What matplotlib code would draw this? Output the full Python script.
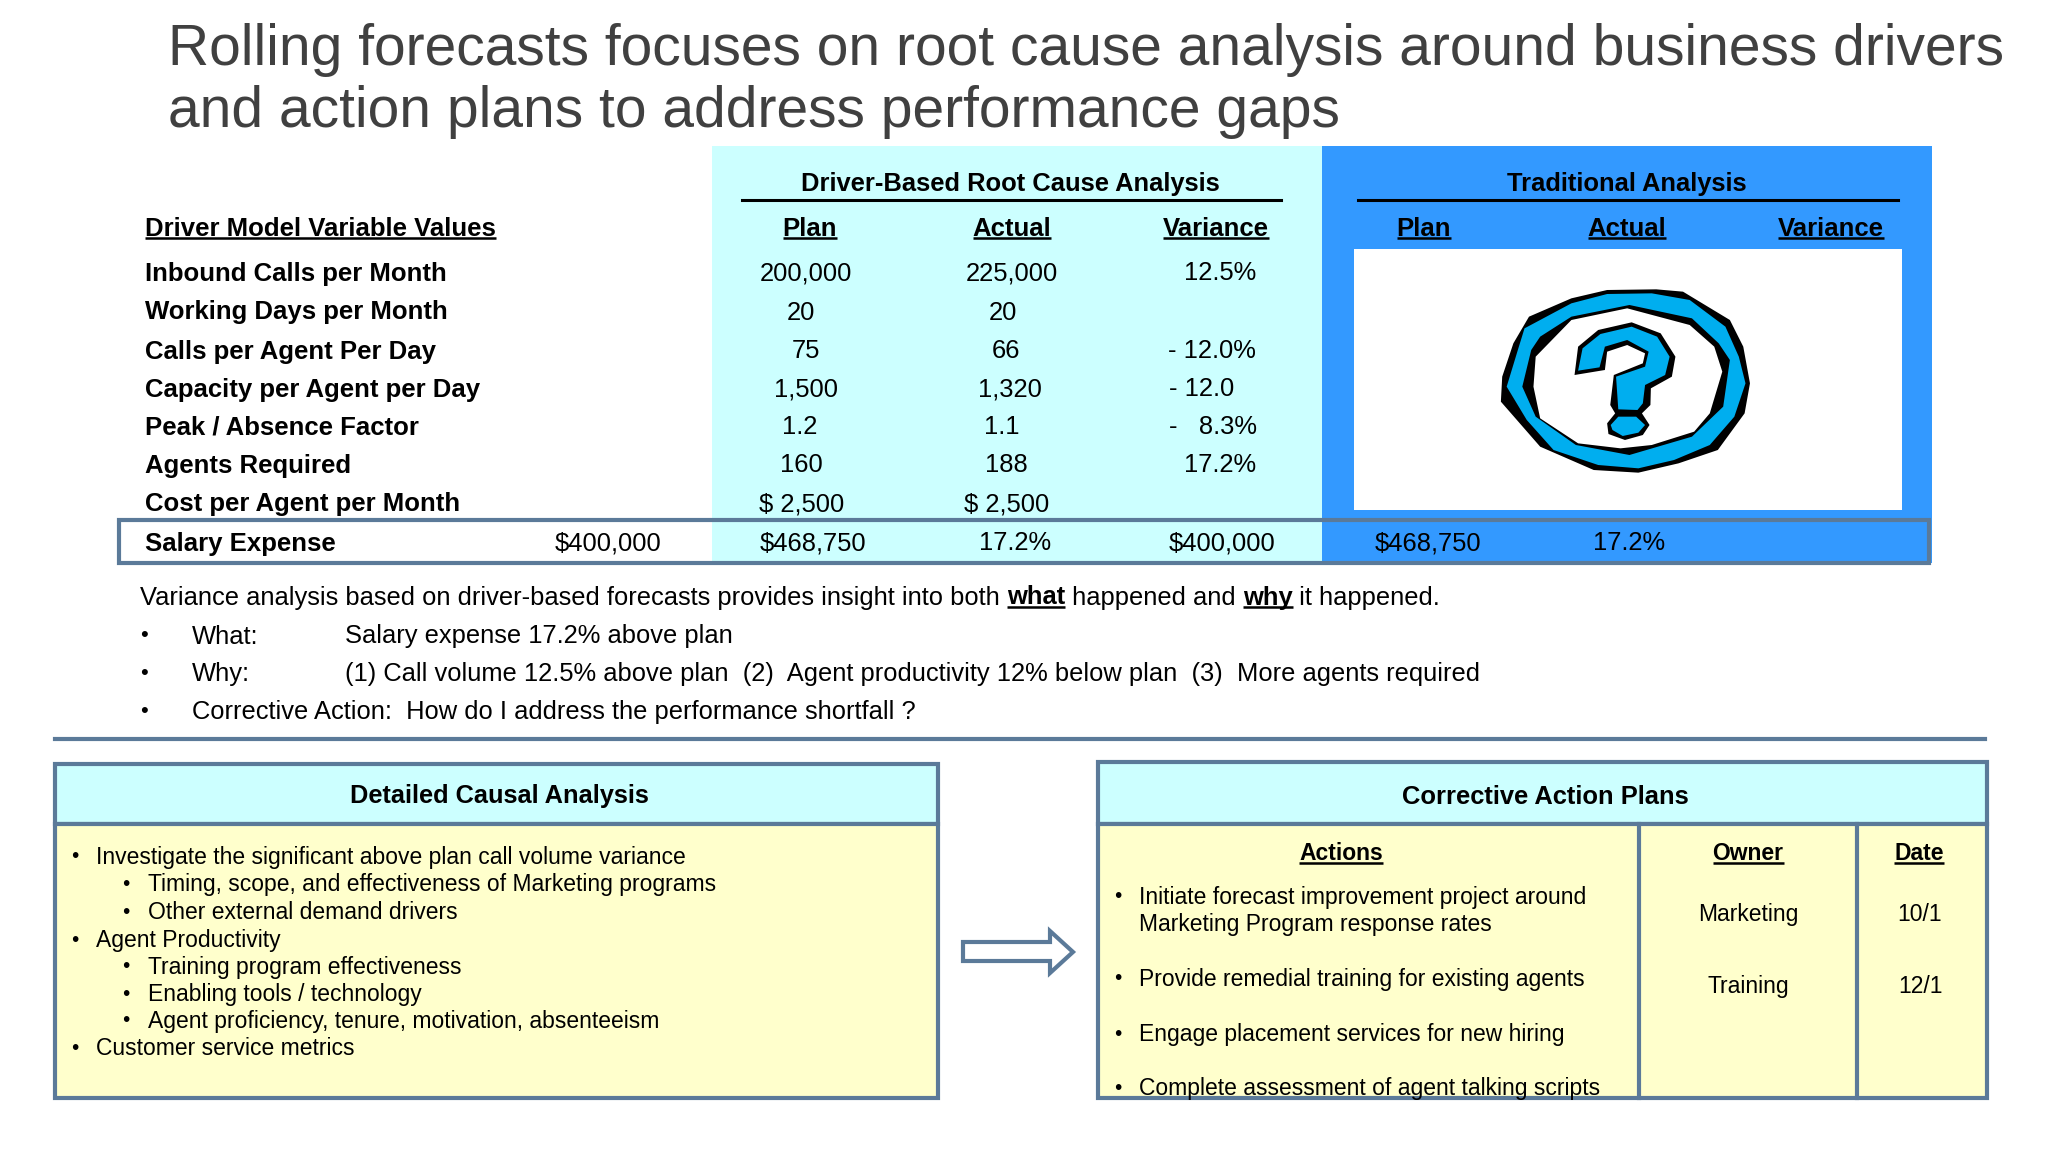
import matplotlib
matplotlib.use("Agg")
import matplotlib.pyplot as plt
from matplotlib.patches import Rectangle, Polygon

plt.rcParams['font.family'] = ['Liberation Sans', 'DejaVu Sans']

title_lines = ["Rolling forecasts focuses on root cause analysis around business drivers",
               "and action plans to address performance gaps"]
row_labels = ["Inbound Calls per Month", "Working Days per Month", "Calls per Agent Per Day",
              "Capacity per Agent per Day", "Peak / Absence Factor", "Agents Required",
              "Cost per Agent per Month"]
plan_values = ["200,000", "20", "75", "1,500", "1.2", "160", "$ 2,500"]
actual_values = ["225,000", "20", "66", "1,320", "1.1", "188", "$ 2,500"]
variance_values = ["12.5%", "", "- 12.0%", "- 12.0", "-   8.3%", "17.2%", ""]
salary_label = "Salary Expense"
salary_values = ["$400,000", "$468,750", "17.2%", "$400,000", "$468,750", "17.2%"]
col_heads = ["Plan", "Actual", "Variance"]

cause_items = [(0, "Investigate the significant above plan call volume variance"),
               (1, "Timing, scope, and effectiveness of Marketing programs"),
               (1, "Other external demand drivers"),
               (0, "Agent Productivity"),
               (1, "Training program effectiveness"),
               (1, "Enabling tools / technology"),
               (1, "Agent proficiency, tenure, motivation, absenteeism"),
               (0, "Customer service metrics")]
action_items = ["Initiate forecast improvement project around", "Marketing Program response rates",
                "Provide remedial training for existing agents",
                "Engage placement services for new hiring",
                "Complete assessment of agent talking scripts"]
owners = ["Marketing", "Training"]
dates = ["10/1", "12/1"]

# layout, in pixels of the 2048x1152 picture
row_y = [272, 311, 350, 388, 426, 464, 503]
salary_y = 542
plan_x = [806, 801, 806, 806, 800, 801, 802]
actual_x = [1012, 1003, 1006, 1010, 1002, 1006, 1007]
variance_x = [1220, 0, 1212, 1202, 1213, 1220, 0]
salary_x = [608, 813, 1015, 1222, 1428, 1629]
head_x = [810, 1012, 1216, 1424, 1627, 1831]

CYAN = "#CCFFFF"
BLUE = "#3399FF"
YELLOW = "#FFFFCC"
EDGE = "#5B7A99"
TXT = 18.4
SMALL = 16.47

fig = plt.figure(figsize=(20.48, 11.52), dpi=100)
ax = fig.add_axes([0, 0, 1, 1])
ax.set_xlim(0, 2048)
ax.set_ylim(1152, 0)
ax.axis('off')


def rect(x0, y0, x1, y1, fc='none', ec='none', lw=0, z=1):
    ax.add_patch(Rectangle((x0, y0), x1 - x0, y1 - y0, facecolor=fc, edgecolor=ec, linewidth=lw, zorder=z))


def txt(x, y, s, ha='center', bold=False, size=TXT, color='black', underline=False):
    t = ax.text(x, y - 1, s, ha=ha, va='center_baseline', fontsize=size, color=color,
                fontweight='bold' if bold else 'normal', zorder=5)
    bb = t.get_window_extent(fig.canvas.get_renderer())
    if underline:
        # bbox is in display pixels, the axes use the same numbers
        ax.plot([bb.x0, bb.x1], [y + 11, y + 11], color='black', lw=1.8, zorder=5, solid_capstyle='butt')
    return bb


# title
for y, line in zip([45, 107], title_lines):
    txt(168, y, line, ha='left', size=41, color="#404040")

# table bands
rect(712, 146, 1322, 563, fc=CYAN)
rect(1322, 146, 1932, 563, fc=BLUE)
rect(1354, 249, 1902, 510, fc='white', z=2)
ax.plot([742, 1281], [200, 200], color='black', lw=2.2, zorder=3)
ax.plot([1358, 1898], [200, 200], color='black', lw=2.2, zorder=3)
txt(1010, 183, "Driver-Based Root Cause Analysis", bold=True)
txt(1627, 183, "Traditional Analysis", bold=True)
txt(145, 227, "Driver Model Variable Values", ha='left', bold=True, underline=True, size=18.55)
for x, h in zip(head_x, col_heads * 2):
    txt(x, 227, h, bold=True, underline=True, size=18.55)

for i, y in enumerate(row_y):
    txt(145, y, row_labels[i], ha='left', bold=True, size=18.5)
    txt(plan_x[i], y, plan_values[i])
    txt(actual_x[i], y, actual_values[i])
    if variance_values[i]:
        txt(variance_x[i], y, variance_values[i])

txt(145, salary_y, salary_label, ha='left', bold=True, size=18.5)
for x, v in zip(salary_x, salary_values):
    txt(x, salary_y, v)
rect(119, 520, 1929, 563, ec=EDGE, lw=3, z=4)

# question mark clipart, traced in zoom-crop coordinates
def icon(pts, color):
    xy = [(1250 + px * 0.4464, 130 + py / 3) for px, py in pts]
    ax.add_patch(Polygon(xy, closed=True, facecolor=color, edgecolor='none', zorder=3))


icon([(625, 560), (720, 505), (800, 480), (910, 478), (970, 485), (1075, 570), (1105, 650), (1120, 760),
      (1108, 850), (1048, 960), (960, 1000), (870, 1028), (770, 1020), (650, 950), (562, 815), (565, 740),
      (590, 640)], 'black')
icon([(615, 595), (720, 520), (800, 492), (900, 490), (985, 510), (1065, 590), (1095, 680), (1110, 760),
      (1085, 860), (1030, 945), (950, 990), (870, 1015), (780, 1005), (680, 960), (620, 870), (575, 770),
      (600, 660)], '#00AEEF')
icon([(650, 620), (720, 560), (850, 525), (990, 565), (1050, 640), (1075, 690), (1060, 830), (990, 920),
      (850, 975), (730, 945), (640, 860), (610, 770), (630, 660)], 'black')
icon([(720, 570), (845, 535), (985, 585), (1040, 650), (1058, 725), (1030, 850), (995, 905), (900, 945),
      (830, 955), (735, 940), (650, 865), (635, 770), (640, 680)], 'white')
icon([(727, 735), (735, 650), (780, 600), (855, 577), (920, 610), (953, 680), (945, 740), (898, 775),
      (897, 825), (878, 850), (895, 885), (880, 915), (840, 930), (803, 912), (800, 880), (818, 850),
      (807, 825), (815, 735), (880, 700), (885, 670), (845, 645), (800, 665), (795, 720)], 'black')
icon([(735, 722), (745, 655), (785, 612), (855, 590), (912, 620), (940, 680), (930, 735), (885, 765),
      (880, 820), (868, 840), (825, 838), (820, 740), (885, 710), (893, 665), (845, 630), (795, 650),
      (783, 712)], '#00AEEF')
icon([(808, 885), (825, 860), (865, 860), (885, 885), (870, 908), (835, 918), (812, 900)], '#00AEEF')

# commentary
bb = txt(140, 596, "Variance analysis based on driver-based forecasts provides insight into both ", ha='left')
bb = txt(bb.x1, 596, "what", ha='left', bold=True, underline=True)
bb = txt(bb.x1, 596, " happened and ", ha='left')
bb = txt(bb.x1, 596, "why", ha='left', bold=True, underline=True)
txt(bb.x1, 596, " it happened.", ha='left')
for y in [634, 672, 710]:
    txt(144, y, "•", size=16)
txt(192, 635, "What:", ha='left')
txt(345, 635, "Salary expense 17.2% above plan", ha='left')
txt(192, 673, "Why:", ha='left')
txt(345, 673, "(1) Call volume 12.5% above plan  (2)  Agent productivity 12% below plan  (3)  More agents required", ha='left')
txt(192, 711, "Corrective Action:  How do I address the performance shortfall ?", ha='left')

ax.plot([55, 1985], [739, 739], color=EDGE, lw=3, zorder=3)

# detailed causal analysis box
rect(55, 764, 938, 824, fc=CYAN, ec=EDGE, lw=3, z=2)
rect(55, 824, 938, 1098, fc=YELLOW, ec=EDGE, lw=3, z=2)
txt(499, 794, "Detailed Causal Analysis", bold=True, size=18.3)
for y, (lev, s) in zip([856, 883, 911, 939, 966, 993, 1020, 1047], cause_items):
    txt(75 if lev == 0 else 126, y, "•", size=15)
    txt(96 if lev == 0 else 148, y, s, ha='left', size=SMALL)

# arrow between the boxes
ax.add_patch(Polygon([(963, 942), (1050, 942), (1050, 931), (1073, 952), (1050, 973), (1050, 961), (963, 961)],
                     closed=True, facecolor='white', edgecolor=EDGE, linewidth=3, zorder=3))

# corrective action box
rect(1098, 762, 1987, 824, fc=CYAN, ec=EDGE, lw=3, z=2)
rect(1098, 824, 1987, 1098, fc=YELLOW, ec=EDGE, lw=3, z=2)
for x in [1639, 1857]:
    ax.plot([x, x], [824, 1098], color=EDGE, lw=3, zorder=3)
txt(1545, 795, "Corrective Action Plans", bold=True)
txt(1341, 852, "Actions", bold=True, underline=True, size=SMALL)
txt(1748, 852, "Owner", bold=True, underline=True, size=SMALL)
txt(1919, 852, "Date", bold=True, underline=True, size=SMALL)
for y, s, b in zip([896, 923, 978, 1033, 1087], action_items, [True, False, True, True, True]):
    if b:
        txt(1118, y, "•", size=15)
    txt(1139, y, s, ha='left', size=SMALL)
for y, o, d in zip([913, 985], owners, dates):
    txt(1748, y, o, size=SMALL)
    txt(1920, y, d, size=SMALL)

fig.savefig("out.png", dpi=100)
